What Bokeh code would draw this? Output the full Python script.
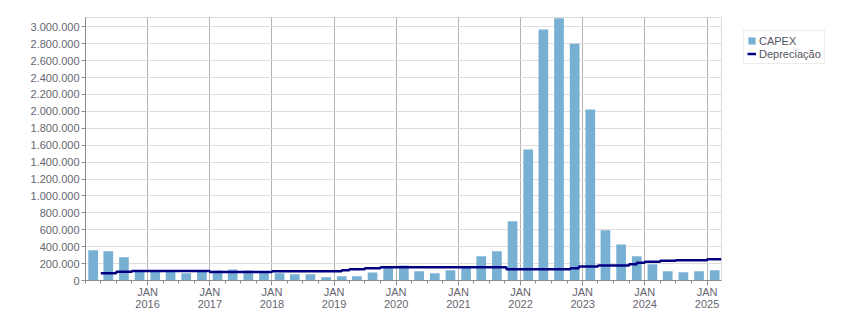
import datetime as dt
from bokeh.plotting import figure
from bokeh.layouts import row
from bokeh.models import (FixedTicker, DatetimeTickFormatter, Legend, LegendItem,
                          ColumnDataSource, Range1d)
from bokeh.embed import file_html
from bokeh.resources import INLINE

# ---- data ----
quarters = ["2015-Q1", "2015-Q2", "2015-Q3", "2015-Q4",
            "2016-Q1", "2016-Q2", "2016-Q3", "2016-Q4",
            "2017-Q1", "2017-Q2", "2017-Q3", "2017-Q4",
            "2018-Q1", "2018-Q2", "2018-Q3", "2018-Q4",
            "2019-Q1", "2019-Q2", "2019-Q3", "2019-Q4",
            "2020-Q1", "2020-Q2", "2020-Q3", "2020-Q4",
            "2021-Q1", "2021-Q2", "2021-Q3", "2021-Q4",
            "2022-Q1", "2022-Q2", "2022-Q3", "2022-Q4",
            "2023-Q1", "2023-Q2", "2023-Q3", "2023-Q4",
            "2024-Q1", "2024-Q2", "2024-Q3", "2024-Q4",
            "2025-Q1"]
capex = [358000, 346000, 275000, 105000,
         105000, 105000, 86000, 110000,
         118000, 130000, 118000, 100000,
         86000, 75000, 75000, 38000,
         50000, 50000, 96000, 148000,
         177000, 110000, 86000, 122000,
         160000, 287000, 346000, 701000,
         1548000, 2967000, 3100000, 2801000,
         2021000, 595000, 425000, 287000,
         193000, 110000, 98000, 110000,
         122000]

dep_dates = ["2015-04-01", "2015-07-01", "2015-10-01", "2017-01-01", "2018-01-01",
             "2019-02-15", "2019-04-01", "2019-07-01", "2019-10-01", "2021-10-10",
             "2022-10-20", "2022-12-10", "2023-04-01", "2023-10-01", "2023-11-15",
             "2024-01-01", "2024-04-01", "2024-07-01", "2025-01-01", "2025-03-27"]
dep_values = [86000, 103000, 112000, 100000, 110000,
              122000, 134000, 145000, 157000, 134000,
              145000, 165000, 177000, 193000, 209000,
              221000, 233000, 240000, 252000, 252000]

year_ticks = [2016, 2017, 2018, 2019, 2020, 2021, 2022, 2023, 2024, 2025]
y_ticks = list(range(0, 3000001, 200000))
y_labels = ["{:,}".format(v).replace(",", ".") for v in y_ticks]

BAR_COLOR = "#78b0d4"
LINE_COLOR = "#000080"

# ---- helpers ----
def ms(d):
    return (d - dt.datetime(1970, 1, 1)).total_seconds() * 1000.0

def q_mid(q):
    y, qq = q.split("-Q")
    m = (int(qq) - 1) * 3 + 2
    return dt.datetime(int(y), m, 15)

bar_x = [q_mid(q) for q in quarters]
dep_x = [dt.datetime.strptime(d, "%Y-%m-%d") for d in dep_dates]

major = [ms(dt.datetime(y, 1, 1)) for y in year_ticks]
minor = []
for y in range(2015, 2026):
    for m in (1, 4, 7, 10):
        if y in year_ticks and m == 1:
            continue
        minor.append(ms(dt.datetime(y, m, 1)))

p = figure(width=730, height=313, x_axis_type="datetime",
           output_backend="svg", toolbar_location=None,
           x_range=Range1d(dt.datetime(2015, 1, 1), dt.datetime(2025, 3, 27)),
           y_range=Range1d(0, 3110000),
           min_border_left=85, min_border_right=9,
           min_border_top=17, min_border_bottom=33)
p.background_fill_color = "white"
p.border_fill_color = "white"
p.outline_line_color = "#d9d9d9"

src = ColumnDataSource(dict(x=bar_x, capex=capex))
dsrc = ColumnDataSource(dict(x=dep_x, v=dep_values))
bar_kw = dict(x="x", top="capex", width=57 * 24 * 3600 * 1000, source=src,
              fill_color=BAR_COLOR, line_color=None)
line_kw = dict(x="x", y="v", source=dsrc, mode="after",
               line_color=LINE_COLOR, line_width=2.5)
bars = p.vbar(**bar_kw)
line = p.step(**line_kw)

# axes
ticker = FixedTicker(ticks=major, minor_ticks=minor)
p.xaxis.ticker = ticker
p.xgrid.ticker = ticker
fmt = "JAN\n%Y"
p.xaxis.formatter = DatetimeTickFormatter(
    years=fmt, months=fmt, days=fmt, hours=fmt, minutes=fmt, seconds=fmt,
    milliseconds=fmt, microseconds=fmt, hourmin=fmt, minsec=fmt)
p.yaxis.ticker = FixedTicker(ticks=y_ticks)
p.yaxis.major_label_overrides = {v: s for v, s in zip(y_ticks, y_labels)}

for ax in (p.xaxis[0], p.yaxis[0]):
    ax.axis_line_color = "#8c8c8c"
    ax.major_tick_line_color = "#8c8c8c"
    ax.minor_tick_line_color = "#8c8c8c"
    ax.major_label_text_color = "#666670"
    ax.major_label_text_font = "Liberation Sans"
    ax.major_label_text_font_size = "11px"
    ax.major_tick_in = 0
    ax.minor_tick_in = 0

p.xaxis.major_tick_out = 5
p.xaxis.minor_tick_out = 3
p.xaxis.major_label_standoff = 0
p.xaxis.major_label_text_line_height = 1.0
p.yaxis.major_tick_out = 4
p.yaxis.minor_tick_line_color = None
p.yaxis.major_label_standoff = 2

p.xgrid.grid_line_color = "#b4b4b4"
p.ygrid.grid_line_color = "#dedede"
p.ygrid.ticker = FixedTicker(ticks=y_ticks)

# ---- legend panel (separate figure to the right; its glyphs fall outside its ranges) ----
p2 = figure(width=121, height=313, output_backend="svg", toolbar_location=None,
            x_range=Range1d(0, 1), y_range=Range1d(0, 1),
            min_border=0, min_border_left=0, min_border_right=0,
            min_border_top=0, min_border_bottom=0)
p2.axis.visible = False
p2.grid.visible = False
p2.outline_line_color = None
p2.background_fill_color = "white"
p2.border_fill_color = "white"
lb = p2.vbar(**bar_kw)
ll = p2.step(**line_kw)

legend = Legend(items=[LegendItem(label="CAPEX", renderers=[lb]),
                       LegendItem(label="Depreciação", renderers=[ll])],
                location="top_left", margin=13, padding=3, spacing=0,
                label_text_font="Liberation Sans", label_text_font_size="11px",
                label_text_color="#555560", label_height=13, label_standoff=3,
                glyph_width=9, glyph_height=9,
                border_line_color="#d9d9d9", background_fill_color="white")
p2.add_layout(legend)

open("out.html", "w").write(file_html(row(p, p2), INLINE))
